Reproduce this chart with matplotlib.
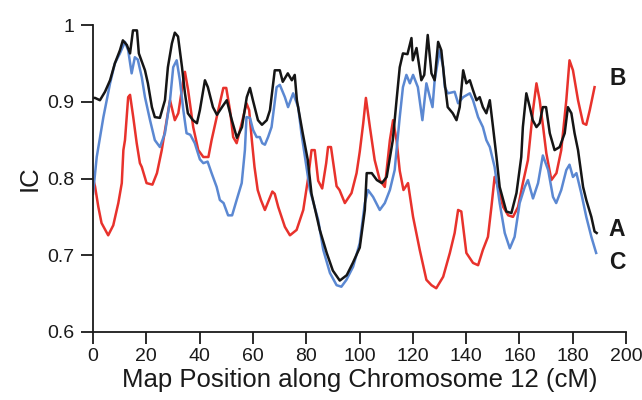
import matplotlib
matplotlib.use("Agg")
import matplotlib.pyplot as plt

# ---- data ----
a_x = [0, 0.75, 2.6, 4.5, 6.4, 8.2, 10.1, 11.2, 12.7, 13.9, 15, 16.5, 17.2, 19.5, 20.6, 22.1, 23.2,
       25.1, 27, 28.1, 29.6, 30.7, 31.9, 33.4, 34.5, 35.6, 37.5, 39, 40.1, 42, 43.1, 45, 46.5, 48.4,
       50.2, 52.1, 54, 55.9, 57.7, 58.9, 60, 61.9, 63.4, 65.2, 66.4, 68.2, 70.1, 71.2, 73.1, 74.6,
       75.7, 76.5, 78.7, 80.6, 82, 85.1, 87.7, 90, 92.6, 95.2, 97.5, 100.1, 102, 102.7, 104.6, 106.5,
       108.4, 110.2, 112.5, 113.9, 115.1, 116.3, 118, 119.5, 120, 121.4, 123.2, 124.3, 125.6, 127,
       128.2, 129.5, 130.7, 132, 133.1, 135, 136.4, 137.6, 138.9, 140.1, 141.4, 142.6, 143.9, 145.1,
       146.3, 147.6, 148.9, 150.1, 151.4, 152.6, 155.1, 157, 158.9, 160.7, 161.3, 162.6, 163.9, 165,
       166.4, 167.6, 168.8, 170, 171.4, 173.2, 175.1, 177, 178.2, 179.5, 180.7, 182, 183.9, 185.1,
       187, 188.2, 189]
a_y = [0.905, 0.905, 0.902, 0.913, 0.928, 0.95, 0.967, 0.98, 0.974, 0.963, 0.993, 0.993, 0.963, 0.941,
       0.924, 0.893, 0.88, 0.879, 0.902, 0.945, 0.976, 0.99, 0.985, 0.945, 0.911, 0.885, 0.876, 0.872,
       0.889, 0.928, 0.919, 0.893, 0.883, 0.893, 0.902, 0.876, 0.853, 0.867, 0.906, 0.918, 0.902, 0.876,
       0.87, 0.876, 0.889, 0.941, 0.941, 0.926, 0.937, 0.928, 0.935, 0.902, 0.859, 0.824, 0.78, 0.733,
       0.703, 0.68, 0.667, 0.674, 0.69, 0.71, 0.759, 0.807, 0.807, 0.798, 0.794, 0.802, 0.85, 0.902,
       0.945, 0.963, 0.962, 0.983, 0.954, 0.97, 0.928, 0.935, 0.987, 0.937, 0.928, 0.978, 0.967, 0.924,
       0.893, 0.885, 0.876, 0.893, 0.941, 0.924, 0.928, 0.915, 0.902, 0.906, 0.893, 0.885, 0.902, 0.867,
       0.828, 0.789, 0.757, 0.755, 0.781, 0.828, 0.867, 0.911, 0.893, 0.876, 0.867, 0.872, 0.893, 0.893,
       0.859, 0.837, 0.841, 0.859, 0.893, 0.885, 0.859, 0.837, 0.789, 0.772, 0.75, 0.731, 0.729]

c_x = [0, 1.4, 3.9, 6.4, 8.2, 10.1, 12, 13.2, 14.5, 15.7, 16.8, 18.3, 19.5, 21.4, 23.2, 25.1, 27, 28.9,
       30.1, 31.4, 32.6, 33.9, 35.1, 36.5, 38.2, 40.1, 41.4, 43, 44.5, 46.4, 47.6, 49, 50.7, 52.2, 53.9,
       55.8, 57, 57.6, 58.9, 60.1, 61.4, 62.6, 63.5, 64.5, 65.7, 67, 68.9, 70.1, 72, 73.2, 75.1, 77,
       78.2, 80.1, 81.4, 84.5, 86.4, 88.9, 91.4, 93.2, 95.1, 97.6, 100.1, 102, 103.2, 105.1, 107.6,
       109.5, 111.4, 113.2, 113.9, 115.1, 116.3, 117.6, 118.9, 120.1, 121.9, 123.6, 125.1, 126.4,
       127.4, 128.2, 130.1, 131.4, 132, 133.2, 135.7, 137, 138.9, 141.4, 142.6, 144.5, 146.3, 147.6,
       148.9, 150.7, 152.6, 154.5, 156.4, 158.2, 160.1, 162, 163.2, 165.1, 167, 168.8, 170.8, 172.6,
       173.8, 175.7, 177.6, 178.8, 180.1, 181.4, 183.2, 185.1, 187, 188.8]
c_y = [0.78, 0.828, 0.88, 0.924, 0.95, 0.963, 0.978, 0.967, 0.937, 0.958, 0.955, 0.932, 0.906, 0.876,
       0.85, 0.841, 0.859, 0.902, 0.945, 0.954, 0.928, 0.889, 0.859, 0.857, 0.846, 0.825, 0.82, 0.822,
       0.807, 0.789, 0.772, 0.768, 0.752, 0.752, 0.772, 0.794, 0.837, 0.88, 0.879, 0.863, 0.854, 0.854,
       0.846, 0.844, 0.854, 0.867, 0.919, 0.922, 0.906, 0.893, 0.911, 0.893, 0.859, 0.815, 0.785, 0.746,
       0.707, 0.677, 0.661, 0.659, 0.668, 0.685, 0.716, 0.768, 0.785, 0.776, 0.759, 0.768, 0.785, 0.811,
       0.837, 0.88, 0.919, 0.935, 0.924, 0.935, 0.919, 0.876, 0.924, 0.906, 0.893, 0.928, 0.967, 0.945,
       0.919, 0.911, 0.913, 0.898, 0.906, 0.911, 0.902, 0.88, 0.867, 0.85, 0.841, 0.815, 0.768, 0.729,
       0.709, 0.724, 0.768, 0.789, 0.798, 0.774, 0.794, 0.83, 0.811, 0.776, 0.768, 0.785, 0.811, 0.818,
       0.802, 0.807, 0.781, 0.75, 0.724, 0.703]

b_x = [0, 0.75, 2, 3.2, 5.7, 7.6, 9.5, 10.8, 11.4, 12, 13.2, 13.9, 15.1, 16.4, 17.6, 18.3, 20.1, 22.3,
       24, 25.8, 26.4, 28.9, 30.7, 32, 33.9, 34.5, 35.7, 37.6, 39.5, 41.4, 43.3, 44.5, 47, 48.9, 50,
       51.4, 52.6, 53.9, 55.8, 57.6, 58.6, 59.6, 60.6, 61.8, 63, 64.5, 67.3, 68.2, 69.5, 72, 73.9, 76.4,
       78.9, 80.7, 82, 83.2, 84.5, 86, 87.5, 88.2, 89.3, 91.4, 92.5, 94.5, 97, 98.9, 100.1, 101.4,
       102.4, 103.9, 105.7, 107.6, 109.5, 111.4, 112.6, 113.9, 115.1, 116.5, 118.2, 120.1, 122.6,
       125.1, 127, 128.8, 131.4, 133.9, 135.7, 137, 138.2, 140.1, 142.6, 144.5, 146.3, 148.2, 149.5,
       150.7, 152, 153.9, 155.8, 157.6, 159.5, 161.3, 163.2, 165.1, 166.4, 167.6, 168.9, 170.1, 172,
       173.9, 175.7, 177.6, 178.8, 180.1, 182, 183.9, 185.1, 186.4, 188.2]
b_y = [0.8, 0.79, 0.763, 0.742, 0.726, 0.739, 0.768, 0.794, 0.837, 0.85, 0.906, 0.909, 0.88, 0.846,
       0.82, 0.815, 0.794, 0.792, 0.807, 0.837, 0.85, 0.902, 0.876, 0.885, 0.928, 0.939, 0.915, 0.867,
       0.837, 0.828, 0.828, 0.85, 0.889, 0.918, 0.918, 0.889, 0.854, 0.846, 0.872, 0.898, 0.889, 0.85,
       0.815, 0.785, 0.772, 0.759, 0.783, 0.78, 0.763, 0.737, 0.726, 0.733, 0.759, 0.8, 0.837, 0.837,
       0.797, 0.787, 0.82, 0.841, 0.841, 0.79, 0.785, 0.768, 0.781, 0.807, 0.835, 0.872, 0.905, 0.867,
       0.824, 0.798, 0.789, 0.85, 0.876, 0.85, 0.81, 0.785, 0.794, 0.75, 0.707, 0.668, 0.661, 0.657,
       0.672, 0.703, 0.729, 0.759, 0.757, 0.703, 0.69, 0.687, 0.707, 0.724, 0.763, 0.802, 0.789, 0.763,
       0.752, 0.75, 0.763, 0.794, 0.824, 0.889, 0.924, 0.902, 0.867, 0.833, 0.798, 0.807, 0.837, 0.902,
       0.954, 0.941, 0.902, 0.872, 0.87, 0.889, 0.919]

x_ticks = [0, 20, 40, 60, 80, 100, 120, 140, 160, 180, 200]
y_ticks = [0.6, 0.7, 0.8, 0.9, 1.0]
y_tick_labels = ["0.6", "0.7", "0.8", "0.9", "1"]
series_labels = ["A", "B", "C"]

plt.rcParams['font.family'] = ['Liberation Sans', 'DejaVu Sans']

fig = plt.figure(figsize=(6.42, 4.0), dpi=100)
ax = fig.add_axes([93 / 642, 68 / 400, 533 / 642, 307 / 400])

red = "#e8322c"
blue = "#5b88d2"
black = "#151515"

ax.plot(b_x, b_y, color=red, lw=1.8, solid_joinstyle="round")
ax.plot(c_x, c_y, color=blue, lw=1.8, solid_joinstyle="round")
ax.plot(a_x, a_y, color=black, lw=1.8, solid_joinstyle="round")

ax.set_xlim(0, 200)
ax.set_ylim(0.6, 1.0)
ax.set_xticks(x_ticks)
ax.set_yticks(y_ticks)
ax.set_yticklabels(y_tick_labels)
for s in ["top", "right"]:
    ax.spines[s].set_visible(False)
for s in ["left", "bottom"]:
    ax.spines[s].set_linewidth(1.3)
    ax.spines[s].set_color("#1a1a1a")
ax.tick_params(direction="out", length=8.5, width=1.3, color="#1a1a1a",
               labelsize=14, labelcolor="#1a1a1a")
ax.tick_params(axis="y", pad=5)
ax.tick_params(axis="x", pad=3)

ax.set_xlabel("Map Position along Chromosome 12 (cM)", fontsize=18.5, color="#1a1a1a", labelpad=2)
ax.set_ylabel("IC", fontsize=18.5, color="#1a1a1a", labelpad=4)

ax.text(a_x[-1] + 4.5, a_y[-1] + 0.004, series_labels[0], fontsize=16.5, fontweight="bold",
        va="center", ha="left", color="#1a1a1a", clip_on=False)
ax.text(b_x[-1] + 5.5, 0.93, series_labels[1], fontsize=16.5, fontweight="bold",
        va="center", ha="left", color="#1a1a1a", clip_on=False)
ax.text(c_x[-1] + 4.7, c_y[-1] - 0.012, series_labels[2], fontsize=16.5, fontweight="bold",
        va="center", ha="left", color="#1a1a1a", clip_on=False)

fig.savefig("out.png", dpi=100)
